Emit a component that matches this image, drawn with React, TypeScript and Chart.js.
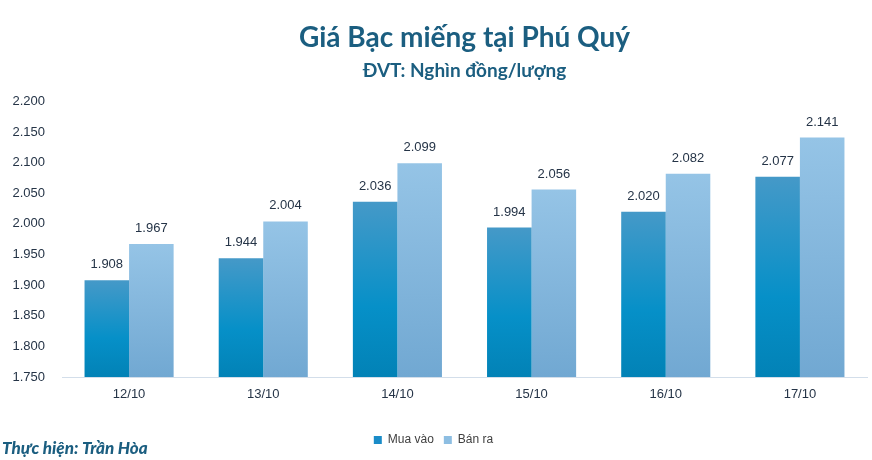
import { useEffect, useRef } from "react";
import { Chart, registerables } from "chart.js";

Chart.register(...registerables);

const categories = ["12/10", "13/10", "14/10", "15/10", "16/10", "17/10"];
const buyValues = [1908, 1944, 2036, 1994, 2020, 2077];
const sellValues = [1967, 2004, 2099, 2056, 2082, 2141];
const seriesLabels = ["Mua vào", "Bán ra"];
const yMin = 1750;
const yMax = 2200;
const yStep = 50;
const titleText = "Giá Bạc miếng tại Phú Quý";
const subtitleText = "ĐVT: Nghìn đồng/lượng";
const creditText = "Thực hiện: Trần Hòa";

const buyStops: [number, string][] = [
  [0, "#4599C8"],
  [0.6, "#0690C8"],
  [1, "#0282B6"],
];
const sellStops: [number, string][] = [
  [0, "#95C4E6"],
  [1, "#71A8D2"],
];
const buyLegend = "#1A8CC8";
const sellLegend = "#8DBEE2";
const titleColor = "#1B5E80";
const textColor = "#253447";

const fmt = (v: number) => (v / 1000).toFixed(3);

function gradientFor(stops: [number, string][], fallback: string) {
  return (c: any) => {
    const chart = c.chart;
    const ys = chart.scales && chart.scales.y;
    if (c.type !== "data" || !ys || !chart.chartArea) return fallback;
    const top = ys.getPixelForValue(c.raw);
    const bot = ys.getPixelForValue(ys.min);
    if (!isFinite(top) || !isFinite(bot) || top === bot) return fallback;
    const g = chart.ctx.createLinearGradient(0, top, 0, bot);
    stops.forEach(([o, col]) => g.addColorStop(o, col));
    return g;
  };
}

const valueLabelPlugin = {
  id: "valueLabels",
  afterDatasetsDraw(chart: any) {
    const ctx = chart.ctx;
    ctx.save();
    ctx.font = "13px 'Liberation Sans', Arial, sans-serif";
    ctx.fillStyle = textColor;
    ctx.textAlign = "center";
    ctx.textBaseline = "alphabetic";
    chart.data.datasets.forEach((ds: any, i: number) => {
      const meta = chart.getDatasetMeta(i);
      meta.data.forEach((el: any, j: number) => {
        ctx.fillText(fmt(ds.data[j]), el.x, el.y - 12);
      });
    });
    ctx.restore();
  },
};

const legendShiftPlugin = {
  id: "legendShift",
  afterLayout(chart: any) {
    const lg = chart.legend;
    if (lg) {
      lg.left -= 6;
      lg.right -= 6;
    }
  },
};

const creditPlugin = {
  id: "credit",
  afterDraw(chart: any) {
    const ctx = chart.ctx;
    ctx.save();
    ctx.font = "italic 900 17px Lato, 'Noto Sans', sans-serif";
    ctx.fillStyle = titleColor;
    ctx.textAlign = "left";
    ctx.textBaseline = "alphabetic";
    ctx.fillText(creditText, 2, 454);
    ctx.restore();
  },
};

export default function App() {
  const ref = useRef<HTMLCanvasElement>(null);

  useEffect(() => {
    document.body.style.margin = "0";
    if (!ref.current) return;
    const chart = new Chart(ref.current, {
      type: "bar",
      data: {
        labels: categories,
        datasets: [
          {
            label: seriesLabels[0],
            data: buyValues,
            backgroundColor: gradientFor(buyStops, buyLegend),
            categoryPercentage: 0.664,
            barPercentage: 1,
          },
          {
            label: seriesLabels[1],
            data: sellValues,
            backgroundColor: gradientFor(sellStops, sellLegend),
            categoryPercentage: 0.664,
            barPercentage: 1,
          },
        ],
      },
      options: {
        animation: false,
        responsive: false,
        events: [],
        layout: { padding: { left: 12, right: 5, top: 0, bottom: 4 } },
        plugins: {
          title: {
            display: true,
            text: titleText,
            fullSize: false,
            color: titleColor,
            font: { family: "Lato, 'Noto Sans', sans-serif", size: 28, weight: "bold", lineHeight: 1.2 },
            padding: { top: 21, bottom: 5 },
          },
          subtitle: {
            display: true,
            text: subtitleText,
            fullSize: false,
            color: titleColor,
            font: { family: "Lato, 'Noto Sans', sans-serif", size: 19, weight: "bold", lineHeight: 1.2 },
            padding: { top: 0, bottom: 19 },
          },
          legend: {
            display: true,
            position: "bottom",
            labels: {
              boxWidth: 8,
              boxHeight: 8,
              padding: 10,
              color: "#404040",
              font: { family: "'Liberation Sans', Arial, sans-serif", size: 12 },
              generateLabels: (ch: any) =>
                ch.data.datasets.map((ds: any, i: number) => ({
                  text: ds.label,
                  fillStyle: i === 0 ? buyLegend : sellLegend,
                  strokeStyle: i === 0 ? buyLegend : sellLegend,
                  lineWidth: 0,
                  hidden: false,
                  datasetIndex: i,
                  fontColor: "#404040",
                })),
            },
          },
          tooltip: { enabled: false },
        },
        scales: {
          x: {
            grid: { display: false, drawTicks: false },
            border: { display: true, color: "#D3DEEA", width: 1 },
            ticks: {
              color: textColor,
              padding: 10,
              font: { family: "'Liberation Sans', Arial, sans-serif", size: 13 },
            },
            afterFit: (s: any) => {
              s.height = 47;
            },
          },
          y: {
            min: yMin,
            max: yMax,
            grid: { display: false, drawTicks: false },
            border: { display: false },
            ticks: {
              stepSize: yStep,
              color: textColor,
              padding: 17,
              font: { family: "'Liberation Sans', Arial, sans-serif", size: 13 },
              callback: (v: any) => fmt(Number(v)),
            },
            afterFit: (s: any) => {
              s.width = 50;
            },
          },
        },
      },
      plugins: [valueLabelPlugin, legendShiftPlugin, creditPlugin],
    });
    return () => chart.destroy();
  }, []);

  return (
    <div style={{ width: 872, height: 460 }}>
      <canvas ref={ref} width={872} height={460} style={{ display: "block", width: 872, height: 460 }} />
    </div>
  );
}
